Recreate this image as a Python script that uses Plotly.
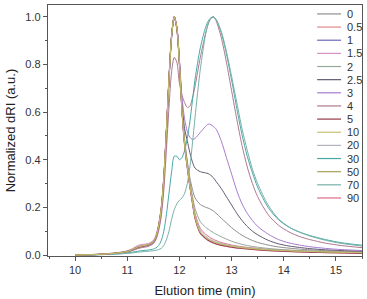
import plotly.graph_objects as go

elution_time = [10.0, 10.4, 10.8, 11.0, 11.1, 11.2, 11.3, 11.4, 11.5, 11.55, 11.6, 11.65, 11.7, 11.75,
                11.8, 11.85, 11.9, 11.95, 12.0, 12.05, 12.1, 12.15, 12.2, 12.25, 12.3, 12.4, 12.5, 12.55,
                12.6, 12.65, 12.7, 12.8, 12.9, 13.0, 13.1, 13.2, 13.3, 13.4, 13.5, 13.7, 13.9, 14.1, 14.3,
                14.5, 14.8, 15.1, 15.5]

series_names = ["0", "0.5", "1", "1.5", "2", "2.5", "3", "4", "5", "10", "20", "30", "50", "70", "90"]

dri_0 = [0.000,0.002,0.008,0.015,0.022,0.032,0.038,0.042,0.055,0.075,0.12,0.19,0.32,0.52,0.74,0.92,1.0,0.955,0.805,0.615,0.485,0.395,0.325,0.275,0.24,0.212,0.201,0.197,0.192,0.185,0.176,0.155,0.135,0.115,0.098,0.083,0.071,0.061,0.053,0.042,0.034,0.029,0.025,0.022,0.018,0.016,0.013]
dri_0_5 = [0.000,0.003,0.009,0.017,0.025,0.036,0.041,0.045,0.058,0.08,0.125,0.2,0.33,0.53,0.75,0.925,1.0,0.95,0.80,0.60,0.455,0.365,0.285,0.215,0.15,0.09,0.068,0.06,0.055,0.05,0.046,0.04,0.036,0.032,0.029,0.027,0.025,0.023,0.021,0.018,0.016,0.014,0.013,0.012,0.010,0.009,0.008]
dri_1 = [0.000,0.002,0.007,0.014,0.021,0.030,0.036,0.040,0.052,0.072,0.115,0.18,0.31,0.51,0.73,0.915,1.0,0.955,0.81,0.61,0.465,0.375,0.295,0.225,0.16,0.096,0.073,0.065,0.059,0.054,0.05,0.044,0.04,0.036,0.033,0.031,0.029,0.027,0.025,0.022,0.02,0.018,0.016,0.014,0.012,0.011,0.009]
dri_1_5 = [0.000,0.003,0.010,0.018,0.027,0.040,0.045,0.048,0.062,0.085,0.13,0.2,0.33,0.53,0.75,0.925,1.0,0.945,0.795,0.595,0.455,0.365,0.285,0.215,0.152,0.09,0.069,0.061,0.055,0.051,0.047,0.041,0.037,0.033,0.03,0.028,0.026,0.024,0.022,0.019,0.017,0.015,0.014,0.012,0.011,0.01,0.008]
dri_2 = [0.000,0.002,0.008,0.015,0.022,0.032,0.038,0.042,0.055,0.075,0.12,0.19,0.32,0.52,0.74,0.92,1.0,0.955,0.805,0.605,0.47,0.38,0.305,0.245,0.195,0.14,0.117,0.109,0.101,0.094,0.088,0.077,0.067,0.058,0.051,0.045,0.04,0.036,0.033,0.028,0.024,0.021,0.019,0.017,0.015,0.013,0.011]
dri_2_5 = [0.000,0.002,0.008,0.015,0.022,0.032,0.038,0.042,0.055,0.075,0.12,0.19,0.32,0.52,0.74,0.92,1.0,0.955,0.81,0.635,0.53,0.48,0.43,0.39,0.365,0.35,0.345,0.342,0.335,0.325,0.31,0.28,0.245,0.21,0.175,0.145,0.12,0.1,0.085,0.062,0.047,0.038,0.032,0.027,0.022,0.019,0.016]
dri_3 = [0.000,0.002,0.008,0.015,0.022,0.032,0.038,0.042,0.056,0.076,0.12,0.19,0.32,0.52,0.74,0.92,1.0,0.96,0.82,0.66,0.57,0.52,0.495,0.485,0.49,0.515,0.54,0.55,0.548,0.54,0.53,0.48,0.41,0.34,0.27,0.215,0.175,0.145,0.12,0.088,0.065,0.051,0.042,0.035,0.028,0.023,0.019]
dri_4 = [0.000,0.002,0.007,0.013,0.019,0.027,0.032,0.036,0.048,0.065,0.1,0.16,0.27,0.44,0.62,0.77,0.83,0.81,0.72,0.67,0.64,0.62,0.625,0.66,0.71,0.83,0.93,0.97,0.993,1.0,0.985,0.915,0.81,0.69,0.57,0.46,0.37,0.3,0.245,0.17,0.125,0.097,0.078,0.065,0.05,0.04,0.031]
dri_5 = [0.000,0.002,0.008,0.015,0.022,0.032,0.038,0.042,0.055,0.075,0.12,0.19,0.32,0.52,0.74,0.92,1.0,0.95,0.80,0.60,0.46,0.37,0.29,0.22,0.155,0.092,0.070,0.062,0.056,0.051,0.047,0.041,0.037,0.033,0.030,0.028,0.026,0.024,0.022,0.019,0.017,0.015,0.013,0.012,0.010,0.009,0.007]
dri_10 = [0.000,0.002,0.008,0.015,0.023,0.033,0.039,0.043,0.056,0.077,0.12,0.19,0.32,0.52,0.74,0.92,1.0,0.955,0.805,0.605,0.465,0.375,0.295,0.225,0.16,0.097,0.075,0.067,0.061,0.056,0.052,0.046,0.041,0.037,0.034,0.031,0.029,0.027,0.025,0.022,0.02,0.018,0.016,0.015,0.013,0.012,0.01]
dri_20 = [0.000,0.002,0.007,0.013,0.02,0.029,0.035,0.039,0.05,0.07,0.11,0.18,0.3,0.5,0.72,0.91,1.0,0.96,0.815,0.615,0.475,0.385,0.305,0.235,0.17,0.104,0.08,0.071,0.065,0.06,0.055,0.049,0.044,0.04,0.036,0.033,0.031,0.029,0.027,0.024,0.021,0.019,0.017,0.016,0.014,0.012,0.01]
dri_30 = [0.000,0.001,0.005,0.009,0.012,0.016,0.019,0.021,0.025,0.03,0.04,0.06,0.1,0.17,0.26,0.35,0.415,0.415,0.40,0.41,0.44,0.49,0.56,0.65,0.74,0.87,0.955,0.982,0.996,1.0,0.99,0.935,0.845,0.735,0.615,0.505,0.415,0.345,0.285,0.2,0.148,0.117,0.097,0.082,0.065,0.052,0.041]
dri_50 = [0.000,0.003,0.009,0.016,0.024,0.035,0.04,0.044,0.057,0.078,0.122,0.195,0.325,0.525,0.745,0.92,1.0,0.95,0.8,0.6,0.46,0.37,0.29,0.222,0.158,0.095,0.074,0.066,0.06,0.055,0.051,0.045,0.041,0.037,0.034,0.031,0.029,0.027,0.025,0.022,0.02,0.018,0.016,0.015,0.013,0.012,0.01]
dri_70 = [0.000,0.001,0.004,0.007,0.009,0.012,0.014,0.016,0.018,0.02,0.023,0.028,0.04,0.065,0.1,0.15,0.19,0.215,0.23,0.24,0.26,0.3,0.37,0.47,0.58,0.78,0.925,0.97,0.993,1.0,0.99,0.94,0.855,0.75,0.64,0.53,0.44,0.36,0.3,0.21,0.152,0.118,0.096,0.08,0.062,0.049,0.038]
dri_90 = [0.000,0.002,0.008,0.015,0.022,0.031,0.037,0.041,0.054,0.074,0.118,0.188,0.318,0.518,0.738,0.918,1.0,0.958,0.812,0.615,0.475,0.385,0.305,0.237,0.175,0.112,0.088,0.079,0.072,0.066,0.061,0.053,0.047,0.042,0.038,0.035,0.032,0.03,0.028,0.024,0.022,0.02,0.018,0.016,0.014,0.013,0.011]

all_series = [dri_0, dri_0_5, dri_1, dri_1_5, dri_2, dri_2_5, dri_3, dri_4, dri_5,
              dri_10, dri_20, dri_30, dri_50, dri_70, dri_90]

colors = ["#8e8e8e", "#e28a8a", "#6a6ab8", "#d890c8", "#98a898", "#625a72", "#a87ad0", "#b07890",
          "#963848", "#c8c070", "#b4b4bc", "#48a8a8", "#a8a058", "#78b0a8", "#e06a8a"]

# drawing order (which curves lie on top of the overlapping main peak)
draw_order = ["90", "0.5", "1.5", "1", "20", "0", "2", "2.5", "3", "4", "30", "70", "5", "50", "10"]

FONT = "Liberation Sans, Arial, sans-serif"
fig = go.Figure()
lookup = {n: (ys, c) for n, ys, c in zip(series_names, all_series, colors)}
for name in draw_order:
    ys, c = lookup[name]
    fig.add_trace(go.Scatter(x=elution_time, y=ys, mode="lines", name=name,
                             line=dict(color=c, width=1, shape="spline", smoothing=0.8),
                             showlegend=False))

# manual compact legend (pixel layout converted to paper coords)
L, R, T, B = 48, 4, 5, 41
W, H = 367, 299
pw, ph = W - L - R, H - T - B
shapes, annots = [], []
for i, (name, c) in enumerate(zip(series_names, colors)):
    yc = 14 + i * 13.25
    yp = (H - B - yc) / ph
    shapes.append(dict(type="line", xref="paper", yref="paper",
                       x0=(318 - L) / pw, x1=(342 - L) / pw, y0=yp, y1=yp,
                       line=dict(color=c, width=1.2)))
    annots.append(dict(xref="paper", yref="paper", x=(346 - L) / pw, y=yp, text=name,
                       showarrow=False, xanchor="left", yanchor="middle",
                       font=dict(family=FONT, size=11, color="#333")))

axis_common = dict(showline=True, mirror=True, linecolor="#555", linewidth=1.3,
                   ticks="outside", ticklen=4, tickcolor="#555", tickwidth=1,
                   showgrid=False, zeroline=False,
                   tickfont=dict(family=FONT, size=11, color="#333"))

fig.update_layout(
    width=W, height=H, margin=dict(l=L, r=R, t=T, b=B),
    paper_bgcolor="white", plot_bgcolor="white",
    shapes=shapes, annotations=annots,
    xaxis=dict(range=[9.48, 15.5], tickvals=[10, 11, 12, 13, 14, 15],
               minor=dict(dtick=0.5, ticks="outside", ticklen=2, tickcolor="#555"),
               title=dict(text="Elution time (min)", font=dict(family=FONT, size=13, color="#222"), standoff=10),
               **axis_common),
    yaxis=dict(range=[-0.004, 1.05], tickvals=[0, 0.2, 0.4, 0.6, 0.8, 1.0], tickformat=".1f",
               minor=dict(dtick=0.1, ticks="outside", ticklen=2, tickcolor="#555"),
               title=dict(text="Normalized dRI (a.u.)", font=dict(family=FONT, size=13, color="#222"), standoff=6),
               **axis_common),
)

fig.write_html("out.html")
